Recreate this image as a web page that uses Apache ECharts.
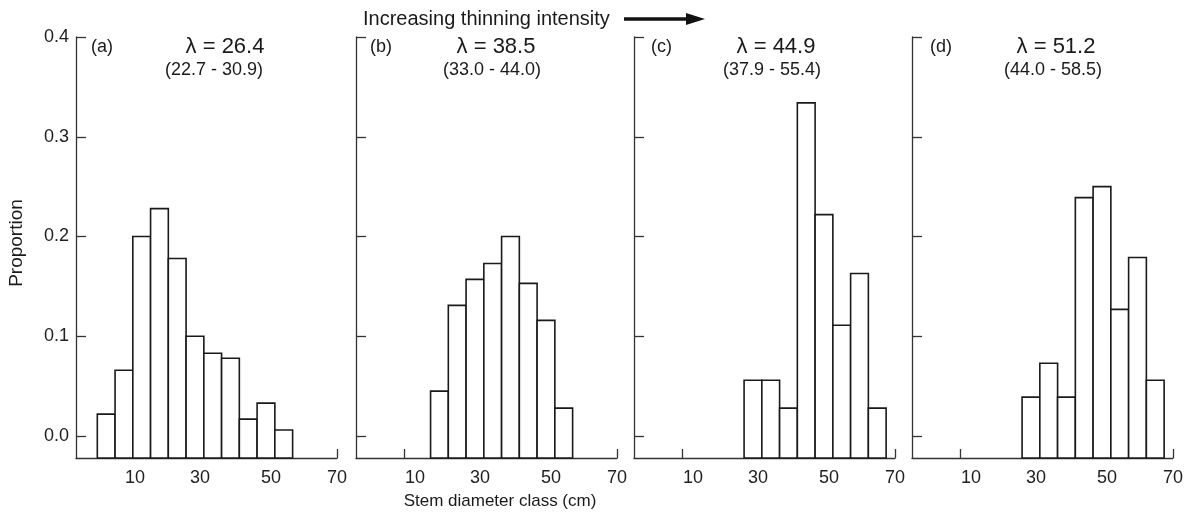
<!DOCTYPE html>
<html lang="en">
<head>
    <meta charset="UTF-8">
    <title>Stem diameter distributions</title>
    <style>
        html, body { margin: 0; padding: 0; background: #fff; }
    </style>
</head>
<body>
    <div id="chart" style="width: 1194px;height:517px;"></div>
    <script src="https://cdn.jsdelivr.net/npm/echarts@6/dist/echarts.min.js"></script>
    <script type="text/javascript">
       // stem diameter classes (cm, class centres) and proportions per panel
       var binsA = [5, 10, 15, 20, 25, 30, 35, 40, 45, 50, 55];
       var propA = [0.022, 0.066, 0.200, 0.228, 0.178, 0.100, 0.083, 0.078, 0.017, 0.033, 0.006];
       var binsB = [20, 25, 30, 35, 40, 45, 50, 55];
       var propB = [0.045, 0.131, 0.157, 0.173, 0.200, 0.153, 0.116, 0.028];
       var binsC = [30, 35, 40, 45, 50, 55, 60, 65];
       var propC = [0.056, 0.056, 0.028, 0.334, 0.222, 0.111, 0.163, 0.028];
       var binsD = [30, 35, 40, 45, 50, 55, 60, 65];
       var propD = [0.039, 0.073, 0.039, 0.239, 0.250, 0.127, 0.179, 0.056];

       var panelTags = ['(a)', '(b)', '(c)', '(d)'];
       var lambdas = ['26.4', '38.5', '44.9', '51.2'];
       var ranges = ['(22.7 - 30.9)', '(33.0 - 44.0)', '(37.9 - 55.4)', '(44.0 - 58.5)'];
       var yTicks = [0, 0.1, 0.2, 0.3, 0.4];
       var xTicks = [10, 30, 50, 70];

       var font = "'Liberation Sans', Arial, sans-serif";
       var ink = '#1a1a1a';
       var binWidth = 5;
       var yMin = -0.022;

       var panels = [[binsA, propA], [binsB, propB], [binsC, propC], [binsD, propD]];
       var lefts = [76, 356, 634, 912];

       var myChart = echarts.init(document.getElementById('chart'));

       // histogram bars reach down to the bottom of the axis
       function renderBar(params, api) {
           var x = api.value(0), v = api.value(1);
           var p0 = api.coord([x - binWidth / 2, v]);
           var p1 = api.coord([x + binWidth / 2, yMin]);
           return {
               type: 'rect',
               shape: { x: p0[0], y: p0[1], width: p1[0] - p0[0], height: p1[1] - p0[1] },
               style: { fill: '#fff', stroke: ink, lineWidth: 1.6 }
           };
       }

       var grid = [], xAxis = [], yAxis = [], series = [], graphic = [];
       for (var i = 0; i < 4; i++) {
           grid.push({ left: lefts[i], width: 261, top: 37, height: 421 });
           xAxis.push({
               type: 'value', gridIndex: i, min: -3.5, max: 70,
               splitLine: { show: false },
               axisLine: { onZero: false, lineStyle: { color: '#333', width: 1.3 } },
               axisTick: {
                   inside: true, length: 9, lineStyle: { color: '#333', width: 1.3 },
                   customValues: i === 0 ? [70] : [10, 70]
               },
               axisLabel: {
                   customValues: xTicks, margin: 11,
                   fontFamily: font, fontSize: 18, color: '#222',
                   formatter: function (v) {
                       if (v === 10) return '{p|' + v + '}';
                       if (v === 30 || v === 50) return '{q|' + v + '}';
                       return v + '';
                   },
                   rich: {
                       p: { padding: [0, 0, 0, 22], fontFamily: font, fontSize: 18, color: '#222' },
                       q: { padding: [0, 0, 0, 10], fontFamily: font, fontSize: 18, color: '#222' }
                   }
               }
           });
           yAxis.push({
               type: 'value', gridIndex: i, min: yMin, max: 0.4,
               splitLine: { show: false },
               axisLine: { show: true, onZero: false, lineStyle: { color: '#333', width: 1.3 } },
               axisTick: { show: true, inside: true, length: 10, customValues: yTicks, lineStyle: { color: '#333', width: 1.3 } },
               axisLabel: {
                   show: i === 0, customValues: yTicks, margin: 7,
                   fontFamily: font, fontSize: 18, color: '#222',
                   formatter: function (v) { return v.toFixed(1); }
               }
           });
           var bins = panels[i][0], prop = panels[i][1];
           var data = [];
           for (var k = 0; k < bins.length; k++) data.push([bins[k], prop[k]]);
           series.push({
               type: 'custom', xAxisIndex: i, yAxisIndex: i,
               renderItem: renderBar, data: data, clip: false, silent: true
           });
       }

       // panel annotations
       var tagX = [91, 370, 651, 930];
       var lamX = [225, 496, 776, 1056];
       var rngX = [214, 492, 772, 1053];
       for (var j = 0; j < 4; j++) {
           graphic.push({
               type: 'text', left: tagX[j], top: 38,
               style: { text: panelTags[j], font: '18px ' + font, fill: ink }
           });
           graphic.push({
               type: 'text', x: lamX[j], y: 47,
               style: { text: '\u03bb = ' + lambdas[j], font: '22px ' + font, fill: ink, align: 'center', verticalAlign: 'middle' }
           });
           graphic.push({
               type: 'text', x: rngX[j], y: 70,
               style: { text: ranges[j], font: '18px ' + font, fill: ink, align: 'center', verticalAlign: 'middle' }
           });
       }
       // header with arrow
       graphic.push({
           type: 'text', x: 363, y: 19,
           style: { text: 'Increasing thinning intensity', font: '20px ' + font, fill: ink, align: 'left', verticalAlign: 'middle' }
       });
       graphic.push({
           type: 'line', shape: { x1: 624, y1: 19, x2: 690, y2: 19 },
           style: { stroke: '#111', lineWidth: 3.5 }
       });
       graphic.push({
           type: 'polygon', shape: { points: [[686, 13], [705, 19], [686, 25]] },
           style: { fill: '#111' }
       });
       // axis titles
       graphic.push({
           type: 'text', x: 500, y: 501,
           style: { text: 'Stem diameter class (cm)', font: '17px ' + font, fill: ink, align: 'center', verticalAlign: 'middle' }
       });
       graphic.push({
           type: 'text', x: 17, y: 243, rotation: Math.PI / 2,
           style: { text: 'Proportion', font: '19px ' + font, fill: ink, align: 'center', verticalAlign: 'middle' }
       });

       var option = {
           animation: false,
           grid: grid,
           xAxis: xAxis,
           yAxis: yAxis,
           series: series,
           graphic: graphic
       };
       myChart.setOption(option);
    </script>
</body>
</html>
